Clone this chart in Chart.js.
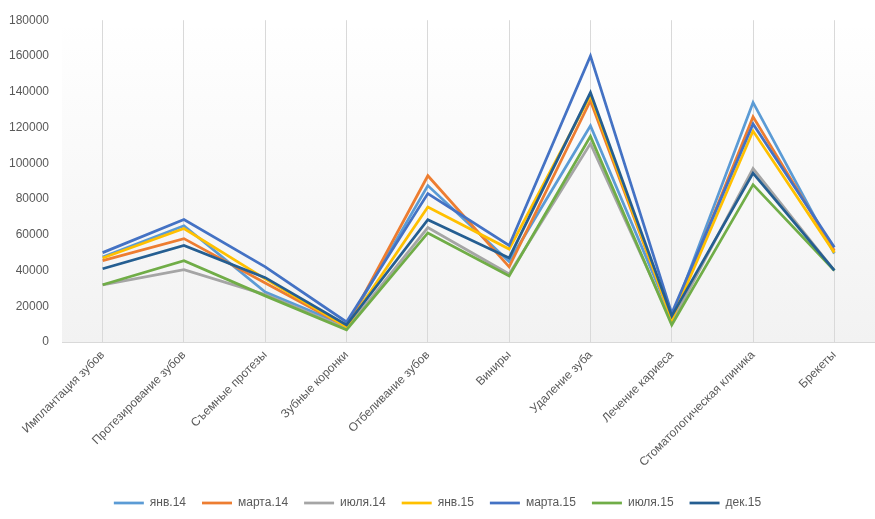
<!DOCTYPE html>
<html>
<head>
<meta charset="utf-8">
<script src="https://cdn.jsdelivr.net/npm/chart.js@4"></script>
<style>
  html, body { margin: 0; padding: 0; background: #fff; }
  #wrap { width: 875px; height: 519px; }
</style>
</head>
<body>
<div id="wrap"><canvas id="chart" width="875" height="519"></canvas></div>
<script>
const categories = ["Имплантация зубов", "Протезирование зубов", "Съемные протезы", "Зубные коронки",
  "Отбеливание зубов", "Виниры", "Удаление зуба", "Лечение кариеса", "Стоматологическая клиника", "Брекеты"];

const seriesNames = ["янв.14", "марта.14", "июля.14", "янв.15", "марта.15", "июля.15", "дек.15"];

const jan14 = [47500, 65000, 28000, 9000, 87500, 45000, 121000, 13500, 134000, 49500];
const mar14 = [45500, 57800, 33000, 8500, 93000, 42000, 135000, 13000, 126000, 51000];
const jul14 = [32000, 40500, 26500, 7500, 64000, 38000, 111000, 11000, 97000, 40000];
const jan15 = [47000, 63500, 35300, 8500, 75500, 52000, 138000, 12500, 118000, 50000];
const mar15 = [50000, 68500, 42000, 11200, 83000, 54000, 160000, 16000, 122000, 53000];
const jul15 = [32000, 45500, 25800, 6800, 61000, 37000, 115000, 9500, 88000, 40000];
const dec15 = [41000, 54000, 36000, 9500, 68400, 47000, 139500, 14500, 94500, 40000];

const seriesValues = [jan14, mar14, jul14, jan15, mar15, jul15, dec15];
const seriesColors = ["#5B9BD5", "#ED7D31", "#A5A5A5", "#FFC000", "#4472C4", "#70AD47", "#255E91"];

const yTicks = [0, 20000, 40000, 60000, 80000, 100000, 120000, 140000, 160000, 180000];

// gradient behind the plot area, like the office template
const plotBackground = {
  id: "plotBackground",
  beforeDraw(chart) {
    const { ctx, chartArea: a } = chart;
    const g = ctx.createLinearGradient(0, a.top, 0, a.bottom);
    g.addColorStop(0, "#ffffff");
    g.addColorStop(1, "#f2f2f2");
    ctx.save();
    ctx.fillStyle = g;
    ctx.fillRect(a.left, a.top + 8, a.right - a.left, a.bottom - a.top - 8);
    ctx.restore();
  }
};

const datasets = seriesNames.map((name, i) => ({
  label: name,
  data: seriesValues[i],
  borderColor: seriesColors[i],
  backgroundColor: seriesColors[i],
  borderWidth: 2.75,
  pointRadius: 0,
  tension: 0,
  fill: false,
  order: seriesNames.length - i
}));

new Chart(document.getElementById("chart").getContext("2d"), {
  type: "line",
  data: { labels: categories, datasets: datasets },
  plugins: [plotBackground],
  options: {
    responsive: false,
    animation: false,
    layout: { padding: { top: 14, right: 0, left: 0, bottom: 0 } },
    plugins: {
      tooltip: { enabled: false },
      legend: {
        position: "bottom",
        labels: {
          color: "#595959",
          font: { family: "Liberation Sans", size: 12 },
          usePointStyle: true,
          pointStyle: "line",
          pointStyleWidth: 30,
          boxHeight: 12,
          padding: 16,
          sort: (a, b) => a.datasetIndex - b.datasetIndex
        }
      }
    },
    scales: {
      x: {
        offset: true,
        afterFit: s => { s.height = 139; },
        grid: { display: true, offset: false, color: "#d9d9d9", lineWidth: 1, drawTicks: false },
        border: { display: true, color: "#d9d9d9" },
        ticks: {
          color: "#595959",
          font: { family: "Liberation Sans", size: 12 },
          minRotation: 45,
          maxRotation: 45,
          padding: 6,
          autoSkip: false
        }
      },
      y: {
        min: 0,
        max: 180000,
        afterBuildTicks: s => { s.ticks = yTicks.map(v => ({ value: v })); },
        afterFit: s => { s.width = 62; },
        grid: { display: false, drawTicks: false },
        border: { display: false },
        ticks: {
          color: "#595959",
          font: { family: "Liberation Sans", size: 12 },
          padding: 13,
          callback: v => String(v)
        }
      }
    }
  }
});
</script>
</body>
</html>
